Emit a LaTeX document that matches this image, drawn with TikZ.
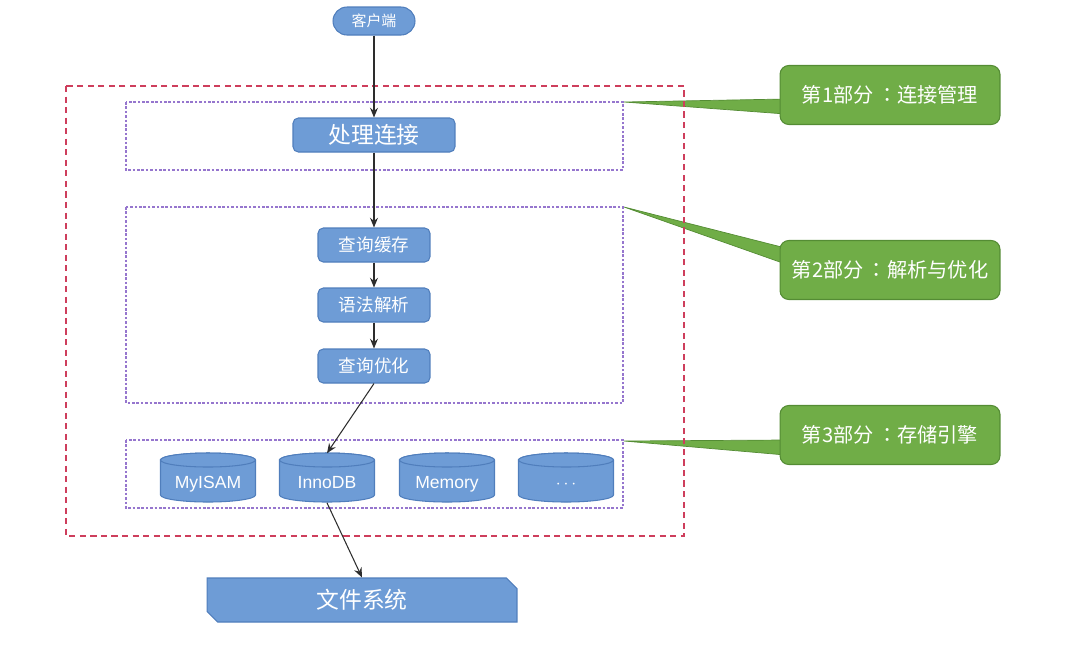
\documentclass[tikz,border=0pt]{standalone}
\usepackage{fontspec}
\setmainfont{Liberation Sans}
\newfontfamily\cjk{Noto Sans CJK SC}
\newfontfamily\cjktc{Noto Sans CJK TC}
\usepackage{xcolor}
\usepackage{tikz}
\usetikzlibrary{positioning,calc,shapes.misc,arrows.meta,backgrounds}

\definecolor{boxblue}{RGB}{110,156,214}
\definecolor{boxline}{RGB}{80,126,188}
\definecolor{partgreen}{RGB}{112,173,71}
\definecolor{partline}{RGB}{84,140,52}
\definecolor{outerred}{RGB}{206,62,92}
\definecolor{layerpurple}{RGB}{150,118,206}
\definecolor{arrowgray}{RGB}{45,45,45}

\newcommand{\sep}{\,{\cjktc ：}}

\tikzset{
  blue box/.style={draw=boxline, fill=boxblue, line width=0.6pt, text=white, inner sep=0pt},
  stage/.style={blue box, rounded corners=3pt, minimum width=2.24cm, minimum height=0.68cm,
    font=\cjk\fontsize{10}{12}\selectfont},
  engine/.style={text=white, inner sep=0pt, text height=12pt, text depth=0.4pt,
    minimum width=1.9cm, minimum height=0.98cm, font=\fontsize{10}{12}\selectfont},
  drum/.style={draw=boxline, fill=boxblue, line width=0.6pt},
  part/.style={draw=partline, fill=partgreen, line width=0.6pt, rounded corners=5pt, text=white,
    minimum width=4.4cm, minimum height=1.18cm, font=\cjk\fontsize{11.5}{13}\selectfont},
  layer/.style={draw=layerpurple, line width=0.6pt, dash pattern=on 1.5pt off 1pt},
  flow/.style={draw=arrowgray, line width=0.6pt, -{Stealth[length=5.5pt,width=4.5pt]}},
}

\begin{document}
\begin{tikzpicture}[x=0.02cm, y=-0.02cm]
\useasboundingbox (0,0) rectangle (1078,664);

% outer frame
\draw[outerred, line width=0.6pt, dash pattern=on 3.5pt off 2.5pt] (66,86) rectangle (684,536);

% the three parts
\draw[layer] (126,102) rectangle (623,170);
\draw[layer] (126,207) rectangle (623,403);
\draw[layer] (126,440) rectangle (623,508);
\coordinate (tip1) at (624,102);
\coordinate (tip2) at (624,207);
\coordinate (tip3) at (624,441);

\node[blue box, rounded corners=0.28cm, minimum width=1.64cm, minimum height=0.56cm,
  font=\cjk\fontsize{8.5}{10}\selectfont] (client) at (374,21) {客户端};

\node[stage, minimum width=3.24cm, font=\cjk\fontsize{13}{15}\selectfont] (conn) at (374,135) {处理连接};

\node[stage] (cache) at (374,245) {查询缓存};
\node[stage] (parse) at (374,305) {语法解析};
\node[stage] (optim) at (374,366) {查询优化};

% storage engines as drums
\foreach \name/\cx/\txt in {myisam/208/MyISAM, innodb/327/InnoDB, memory/447/Memory, others/566/$\cdots$} {
  \draw[drum] (\cx-47.5,460) -- (\cx-47.5,495) arc (180:0:47.5 and 7)
    -- (\cx+47.5,460) arc (0:-180:47.5 and 7) -- cycle;
  \draw[drum] (\cx,460) ellipse (47.5 and 7);
  \node[engine] (\name) at (\cx,478) {\txt};
}

\node[blue box, chamfered rectangle, chamfered rectangle corners={north east,south west},
  chamfered rectangle xsep=2.5pt, minimum width=6.2cm, minimum height=0.88cm,
  font=\cjk\fontsize{13}{15}\selectfont] (fs) at (362,600) {文件系统};

\draw[flow] (client) -- (conn);
\draw[flow] (conn) -- (cache);
\draw[flow] (cache) -- (parse);
\draw[flow] (parse) -- (optim);
\draw[flow] (optim.south) -- (innodb.north);
\draw[flow] (innodb.south) -- (fs.north);

% callouts
\node[part] (part1) at (890,95) {第1部分\sep 连接管理};
\node[part] (part2) at (890,270) {第2部分\sep 解析与优化};
\node[part] (part3) at (890,435) {第3部分\sep 存储引擎};

\begin{scope}[on background layer]
\filldraw[fill=partgreen, draw=partline, line width=0.4pt]
  (tip1) -- ($(part1.west)+(6,4)$) -- ($(part1.west)+(6,19)$) -- cycle;
\filldraw[fill=partgreen, draw=partline, line width=0.4pt]
  (tip2) -- ($(part2.west)+(6,-22)$) -- ($(part2.west)+(6,-6)$) -- cycle;
\filldraw[fill=partgreen, draw=partline, line width=0.4pt]
  (tip3) -- ($(part3.west)+(6,5)$) -- ($(part3.west)+(6,20)$) -- cycle;
\end{scope}

\end{tikzpicture}
\end{document}
